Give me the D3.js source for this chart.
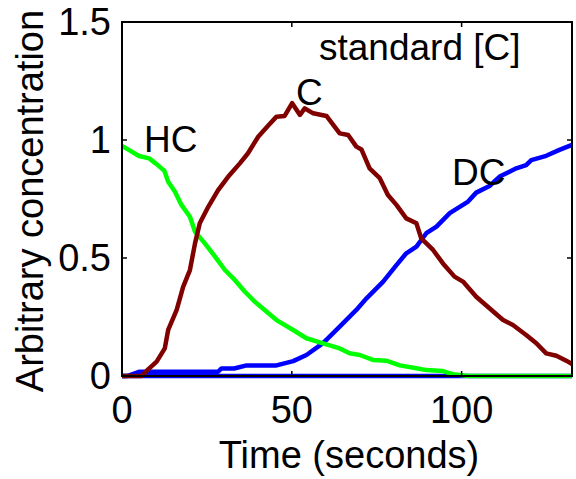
<!DOCTYPE html>
<html>
<head>
<meta charset="utf-8">
<script src="https://cdn.jsdelivr.net/npm/d3@7"></script>
<style>
  body { margin: 0; background: #fff; }
  text { font-family: "Liberation Sans", Arial, sans-serif; }
</style>
</head>
<body>
<div id="chart"></div>
<script>
// HC (green)
const tHC = [0, 2, 5, 8, 10, 12.5, 13.6, 15.6, 17.5, 20, 21.5, 24.4, 27.4, 30.3, 33.2, 36.2, 39.1, 42, 45.5, 50.4, 54.3, 59.2, 64.1, 67, 70, 73.9, 77.8, 81.8, 86.7, 89.6, 94.5, 97.4, 102, 132.5];
const vHC = [0.975, 0.958, 0.932, 0.922, 0.90, 0.869, 0.823, 0.781, 0.725, 0.675, 0.611, 0.562, 0.506, 0.449, 0.407, 0.357, 0.315, 0.28, 0.237, 0.195, 0.16, 0.138, 0.117, 0.096, 0.089, 0.068, 0.065, 0.045, 0.033, 0.025, 0.021, 0.008, 0, 0];
// C (dark red)
const tC = [0, 5.8, 7.7, 10.2, 12.6, 13.6, 16.1, 18, 20, 21.5, 22.9, 25.4, 28.3, 31.3, 34.7, 37.1, 40.1, 43, 45.5, 47.9, 50.1, 52.4, 53.8, 56.3, 60.2, 64.1, 66.6, 69, 70.5, 72.9, 75.9, 78.3, 80.8, 83.7, 86.7, 88.1, 91.6, 94.5, 97.9, 100.4, 104.3, 108.2, 112.2, 115.1, 119, 122, 124.9, 127.9, 130.8, 132.5];
const vC = [0, 0, 0.028, 0.061, 0.117, 0.195, 0.28, 0.378, 0.449, 0.562, 0.647, 0.717, 0.788, 0.845, 0.901, 0.944, 1.014, 1.06, 1.099, 1.102, 1.156, 1.106, 1.134, 1.113, 1.102, 1.028, 1.021, 0.972, 0.96, 0.88, 0.838, 0.767, 0.725, 0.668, 0.647, 0.583, 0.534, 0.477, 0.421, 0.40, 0.336, 0.287, 0.237, 0.216, 0.174, 0.139, 0.096, 0.086, 0.065, 0.051];
// DC (blue)
const tDC = [0, 1.5, 5, 28.3, 29.3, 33, 36.7, 45.5, 50.4, 54.3, 59.2, 64.1, 69, 72, 76.9, 80.8, 83.7, 86.7, 89.6, 92.6, 96.5, 101.9, 104.3, 108.2, 111.2, 116.1, 119, 120.5, 124.9, 128.8, 132.5];
const vDC = [0, 0, 0.018, 0.018, 0.032, 0.032, 0.045, 0.045, 0.063, 0.089, 0.139, 0.209, 0.28, 0.329, 0.40, 0.47, 0.52, 0.548, 0.605, 0.633, 0.69, 0.739, 0.777, 0.805, 0.845, 0.88, 0.894, 0.915, 0.933, 0.958, 0.979];
// blue baseline along zero
const tBase = [0, 132.5];
const vBase = [0, 0];

const xTicks = [0, 50, 100];
const yTicks = [0, 0.5, 1, 1.5];

const width = 576, height = 479;
const margin = { top: 22, right: 4, bottom: 103, left: 122 };

const x = d3.scaleLinear().domain([0, 132.5]).range([margin.left, width - margin.right]);
const y = d3.scaleLinear().domain([0, 1.5]).range([height - margin.bottom, margin.top]);

const svg = d3.select("#chart").append("svg")
  .attr("width", width)
  .attr("height", height);

const line = d3.line()
  .x(d => x(d[0]))
  .y(d => y(d[1]));

function pairs(t, v) { return t.map((d, i) => [d, v[i]]); }

// curves
const series = [
  { t: tBase, v: vBase, color: "#0000ff" },
  { t: tDC, v: vDC, color: "#0000ff" },
  { t: tHC, v: vHC, color: "#00ff00" },
  { t: tC, v: vC, color: "#800000" }
];
series.forEach(s => {
  svg.append("path")
    .attr("d", line(pairs(s.t, s.v)))
    .attr("fill", "none")
    .attr("stroke", s.color)
    .attr("stroke-width", 4.5)
    .attr("stroke-linejoin", "round");
});

// box
const x0 = x.range()[0], x1 = x.range()[1], y0 = y.range()[0], y1 = y.range()[1];
svg.append("rect")
  .attr("x", x0).attr("y", y1)
  .attr("width", x1 - x0).attr("height", y0 - y1)
  .attr("fill", "none").attr("stroke", "#000").attr("stroke-width", 2);

// inward ticks
const tickLen = 5;
xTicks.forEach(d => {
  svg.append("line").attr("x1", x(d)).attr("x2", x(d)).attr("y1", y0).attr("y2", y0 - tickLen).attr("stroke", "#000").attr("stroke-width", 1.5);
  svg.append("line").attr("x1", x(d)).attr("x2", x(d)).attr("y1", y1).attr("y2", y1 + tickLen).attr("stroke", "#000").attr("stroke-width", 1.5);
});
yTicks.forEach(d => {
  svg.append("line").attr("x1", x0).attr("x2", x0 + tickLen).attr("y1", y(d)).attr("y2", y(d)).attr("stroke", "#000").attr("stroke-width", 1.5);
  svg.append("line").attr("x1", x1).attr("x2", x1 - tickLen).attr("y1", y(d)).attr("y2", y(d)).attr("stroke", "#000").attr("stroke-width", 1.5);
});

// tick labels
svg.selectAll(".xlab").data(xTicks).enter().append("text")
  .attr("x", d => x(d))
  .attr("y", 423)
  .attr("text-anchor", "middle")
  .style("font-size", "38px")
  .text(d => d);

svg.selectAll(".ylab").data(yTicks).enter().append("text")
  .attr("x", 111)
  .attr("y", d => y(d) + 13)
  .attr("text-anchor", "end")
  .style("font-size", "38px")
  .text(d => d);

// axis titles
svg.append("text")
  .attr("x", 349)
  .attr("y", 468)
  .attr("text-anchor", "middle")
  .style("font-size", "38px")
  .text("Time (seconds)");

svg.append("text")
  .attr("transform", "translate(43,201) rotate(-90)")
  .attr("text-anchor", "middle")
  .style("font-size", "38px")
  .text("Arbitrary concentration");

// annotations
const notes = [
  { t: "standard [C]", px: 319, py: 60 },
  { t: "HC", px: 144, py: 152 },
  { t: "C", px: 296, py: 105 },
  { t: "DC", px: 452, py: 185 }
];
notes.forEach(n => {
  svg.append("text")
    .attr("x", n.px)
    .attr("y", n.py)
    .style("font-size", "37px")
    .text(n.t);
});
</script>
</body>
</html>
